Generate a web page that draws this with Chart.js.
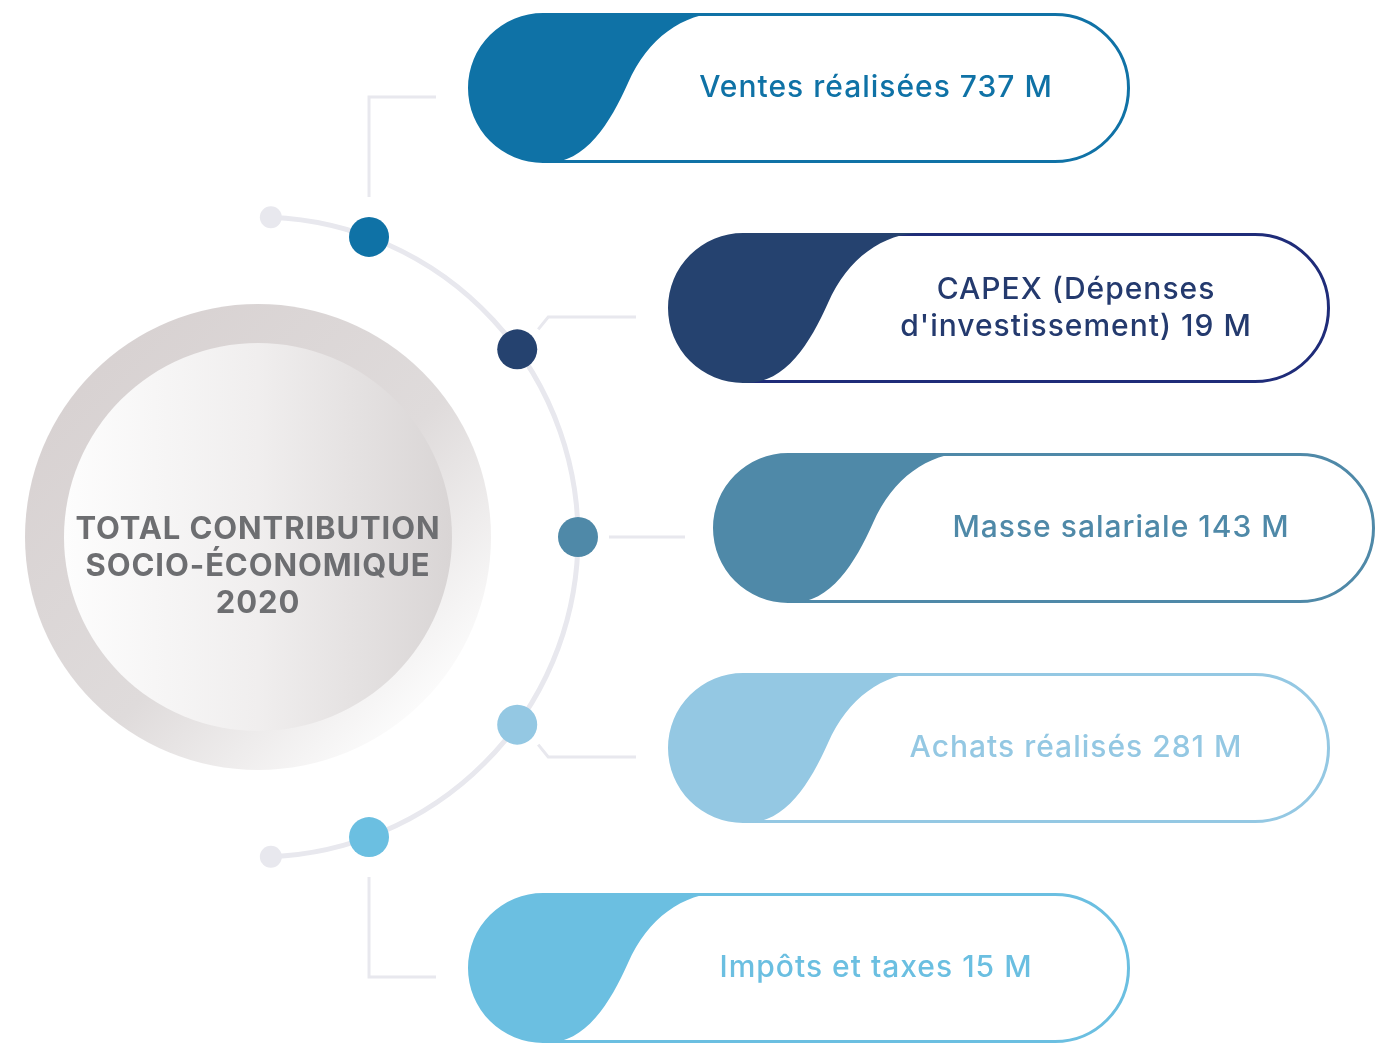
<!DOCTYPE html>
<html>
<head>
<meta charset="utf-8">
<script src="https://cdn.jsdelivr.net/npm/chart.js@4.4.1/dist/chart.umd.min.js"></script>
<style>
  html, body { margin: 0; padding: 0; background: #ffffff; }
  canvas { display: block; }
</style>
</head>
<body>
<canvas id="contributionChart" width="1382" height="1046"></canvas>
<script>
const categories = ['Ventes réalisées', 'CAPEX (Dépenses d\'investissement)', 'Masse salariale', 'Achats réalisés', 'Impôts et taxes'];
const values = [737, 19, 143, 281, 15];
const unit = 'M';
const titleLines = ['TOTAL CONTRIBUTION', 'SOCIO-ÉCONOMIQUE', '2020'];

// Colours per item (fill / text, outline)
const fillColors = ['#0f72a6', '#25426f', '#4f89a8', '#94c8e3', '#6bbfe1'];
const borderColors = ['#1072a6', '#1f2c79', '#4f89a8', '#94c8e3', '#6bbfe1'];

// Layout (in pixels of the 1382x1046 canvas)
const hub = { x: 258, y: 537, ringR: 233, innerR: 194, arcR: 320 };
const dotAngles = [-69.7, -35.9, 0, 35.9, 69.7];   // degrees round the hub
const arcEndAngle = 87.7;
const rowGap = 220;
const pillLeft = [468, 668, 713, 668, 468];
const pillWidth = 662;
const pillHeight = 150;

const rad = d => d * Math.PI / 180;
const dotPoints = dotAngles.map(a => ({
  x: hub.x + hub.arcR * Math.cos(rad(a)),
  y: hub.y + hub.arcR * Math.sin(rad(a))
}));

function labelLines(i) {
  if (i === 1) return ['CAPEX (Dépenses', 'd\'investissement) ' + values[i] + ' ' + unit];
  return [categories[i] + ' ' + values[i] + ' ' + unit];
}

const infographic = {
  id: 'infographic',
  beforeDatasetsDraw(chart) {
    const { ctx, scales: { x, y } } = chart;
    const px = v => x.getPixelForValue(v);
    const py = v => y.getPixelForValue(v);
    const cx = px(hub.x), cy = py(hub.y);

    ctx.save();

    // big hub circle: outer ring
    let g = ctx.createLinearGradient(cx - hub.ringR * 0.7, cy - hub.ringR * 0.7, cx + hub.ringR * 0.75, cy + hub.ringR * 0.75);
    g.addColorStop(0, '#d8d2d2');
    g.addColorStop(0.55, '#dfdbdb');
    g.addColorStop(1, '#fdfdfd');
    ctx.fillStyle = g;
    ctx.beginPath();
    ctx.arc(cx, cy, hub.ringR, 0, Math.PI * 2);
    ctx.fill();

    // inner disc
    g = ctx.createLinearGradient(cx - hub.innerR, 0, cx + hub.innerR, 0);
    g.addColorStop(0, '#fdfdfd');
    g.addColorStop(0.5, '#f0eeee');
    g.addColorStop(1, '#d9d5d5');
    ctx.fillStyle = g;
    ctx.beginPath();
    ctx.arc(cx, cy, hub.innerR, 0, Math.PI * 2);
    ctx.fill();

    // title
    ctx.fillStyle = '#6d6e71';
    ctx.font = '700 31px Inter, sans-serif';
    ctx.letterSpacing = '0.9px';
    ctx.textAlign = 'center';
    ctx.textBaseline = 'middle';
    titleLines.forEach((t, k) => ctx.fillText(t, cx, cy + 30 + (k - 1) * 37));

    // grey arc and its end caps
    ctx.strokeStyle = '#e8e8ee';
    ctx.lineWidth = 5;
    ctx.beginPath();
    ctx.arc(cx, cy, hub.arcR, rad(-arcEndAngle), rad(arcEndAngle));
    ctx.stroke();
    ctx.fillStyle = '#e8e8ee';
    [-arcEndAngle, arcEndAngle].forEach(a => {
      ctx.beginPath();
      ctx.arc(cx + hub.arcR * Math.cos(rad(a)), cy + hub.arcR * Math.sin(rad(a)), 11, 0, Math.PI * 2);
      ctx.fill();
    });

    // connectors
    ctx.lineWidth = 3;
    ctx.strokeStyle = '#e8e8ee';
    dotPoints.forEach((p, i) => {
      const dx = px(p.x), dy = py(p.y);
      const lineY = py(hub.y + (i - 2) * rowGap);
      const endX = px(pillLeft[i]) - 32;
      ctx.beginPath();
      if (i === 0 || i === 4) {
        const s = i === 0 ? -1 : 1;
        ctx.moveTo(dx, dy + s * 40);
        ctx.lineTo(dx, lineY);
        ctx.lineTo(endX, lineY);
      } else if (i === 2) {
        ctx.moveTo(dx + 31, lineY);
        ctx.lineTo(endX + 4, lineY);
      } else {
        const s = i === 1 ? -1 : 1;
        ctx.moveTo(dx + 21, dy + s * 20);
        ctx.lineTo(dx + 31, lineY);
        ctx.lineTo(endX, lineY);
      }
      ctx.stroke();
    });

    // pills
    categories.forEach((c, i) => {
      const left = px(pillLeft[i]);
      const right = left + pillWidth;
      const mid = py(hub.y + (i - 2) * rowGap) - 9;
      const r = pillHeight / 2;
      const top = mid - r, bottom = mid + r;

      // outline
      ctx.strokeStyle = borderColors[i];
      ctx.lineWidth = 3;
      ctx.beginPath();
      ctx.moveTo(left + r, top + 1.5);
      ctx.lineTo(right - r, top + 1.5);
      ctx.arc(right - r, mid, r - 1.5, -Math.PI / 2, Math.PI / 2);
      ctx.lineTo(left + r, bottom - 1.5);
      ctx.stroke();

      // filled cap with S-shaped edge (broad shoulder, steep middle)
      ctx.fillStyle = fillColors[i];
      ctx.beginPath();
      ctx.moveTo(left + r, top);
      ctx.lineTo(left + 254, top);
      ctx.bezierCurveTo(left + 215, top, left + 180, top + 25, left + 160, top + 70);
      ctx.bezierCurveTo(left + 142, top + 110, left + 118, bottom, left + 78, bottom);
      ctx.arc(left + r, mid, r, Math.PI / 2, Math.PI * 1.5);
      ctx.closePath();
      ctx.fill();

      // label
      ctx.fillStyle = i === 1 ? '#243a6e' : fillColors[i];
      ctx.font = '500 30px Inter, sans-serif';
      ctx.letterSpacing = '1px';
      const lines = labelLines(i);
      const tx = left + 408;
      lines.forEach((t, k) => ctx.fillText(t, tx, mid + (k - (lines.length - 1) / 2) * 37));
    });

    ctx.restore();
  }
};

new Chart(document.getElementById('contributionChart'), {
  type: 'scatter',
  data: {
    datasets: [{
      label: 'Contribution',
      data: dotPoints,
      pointRadius: 20,
      pointHoverRadius: 20,
      pointBackgroundColor: fillColors,
      pointBorderWidth: 0
    }]
  },
  options: {
    responsive: false,
    animation: false,
    layout: { padding: 0, autoPadding: false },
    plugins: { legend: { display: false }, tooltip: { enabled: false } },
    scales: {
      x: { type: 'linear', min: 0, max: 1382, display: false },
      y: { type: 'linear', min: 0, max: 1046, reverse: true, display: false }
    }
  },
  plugins: [infographic]
});
</script>
</body>
</html>
